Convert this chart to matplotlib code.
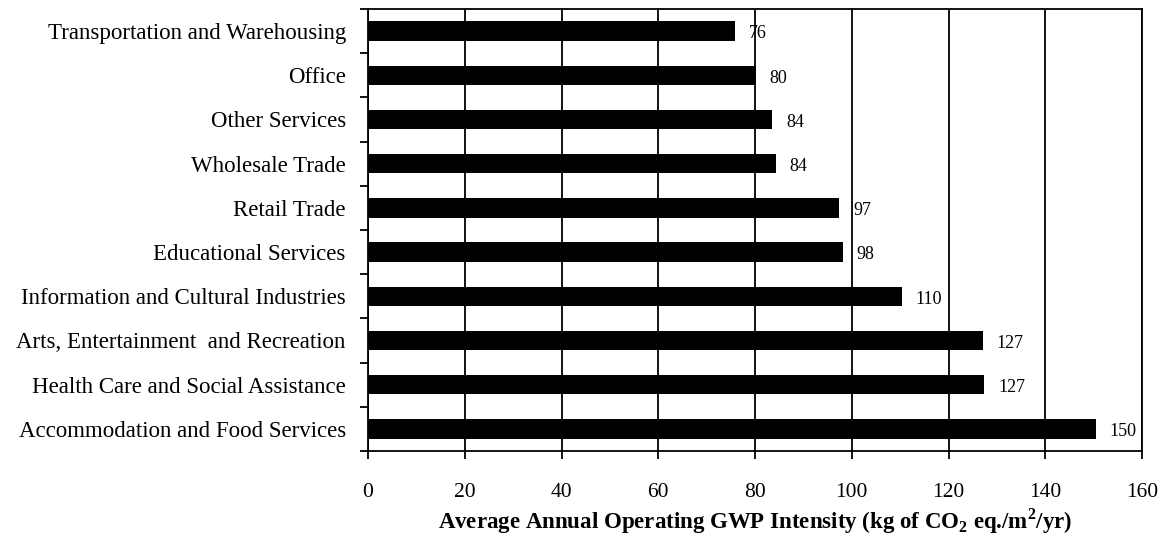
import matplotlib.pyplot as plt
import numpy as np

# Average annual operating GWP intensity by sector
sectors = [
    "Transportation and Warehousing",
    "Office",
    "Other Services",
    "Wholesale Trade",
    "Retail Trade",
    "Educational Services",
    "Information and Cultural Industries",
    "Arts, Entertainment  and Recreation",
    "Health Care and Social Assistance",
    "Accommodation and Food Services",
]
intensity = [75.9, 80.2, 83.6, 84.3, 97.4, 98.1, 110.3, 127.1, 127.4, 150.4]
value_labels = ["76", "80", "84", "84", "97", "98", "110", "127", "127", "150"]

plt.rcParams['font.family'] = ['Liberation Serif', 'DejaVu Serif']
plt.rcParams['mathtext.fontset'] = 'custom'
plt.rcParams['mathtext.rm'] = 'Liberation Serif'
plt.rcParams['mathtext.bf'] = 'Liberation Serif:bold'

fig = plt.figure(figsize=(11.73, 5.36), dpi=100)
ax = fig.add_axes([368 / 1173, 1 - 451 / 536, (1142 - 368) / 1173, (451 - 9) / 536])

y = np.arange(len(sectors))
ax.barh(y, intensity, height=0.44, color='black', zorder=3)
ax.set_ylim(len(sectors) - 0.5, -0.5)
ax.set_xlim(0, 160)

for yi, v, lab in zip(y, intensity, value_labels):
    ax.annotate(lab, (v, yi), xytext=(10, -2), textcoords='offset points',
                ha='left', va='center', fontsize=13)

ax.set_xticks(np.arange(0, 161, 20))
ax.xaxis.grid(True, color='black', linewidth=1.3, zorder=0)
ax.tick_params(axis='x', direction='out', length=6, width=1.3, labelsize=15.5, pad=17)

# category labels sit between the boundary ticks
ax.set_yticks(np.arange(-0.5, len(sectors) + 0.5, 1))
ax.set_yticklabels([])
ax.set_yticks(y, minor=True)
ax.set_yticklabels(sectors, minor=True, fontsize=16.5)
ax.tick_params(axis='y', which='major', direction='out', length=6, width=1.3)
ax.tick_params(axis='y', which='minor', length=0, pad=16)

for s in ax.spines.values():
    s.set_linewidth(1.3)

ax.set_xlabel(r"Average Annual Operating GWP Intensity (kg of CO$_\mathbf{2}$ eq./m$^\mathbf{2}$/yr)",
              fontsize=16.5, fontweight='bold', labelpad=3)

fig.savefig('out.png', dpi=100)
